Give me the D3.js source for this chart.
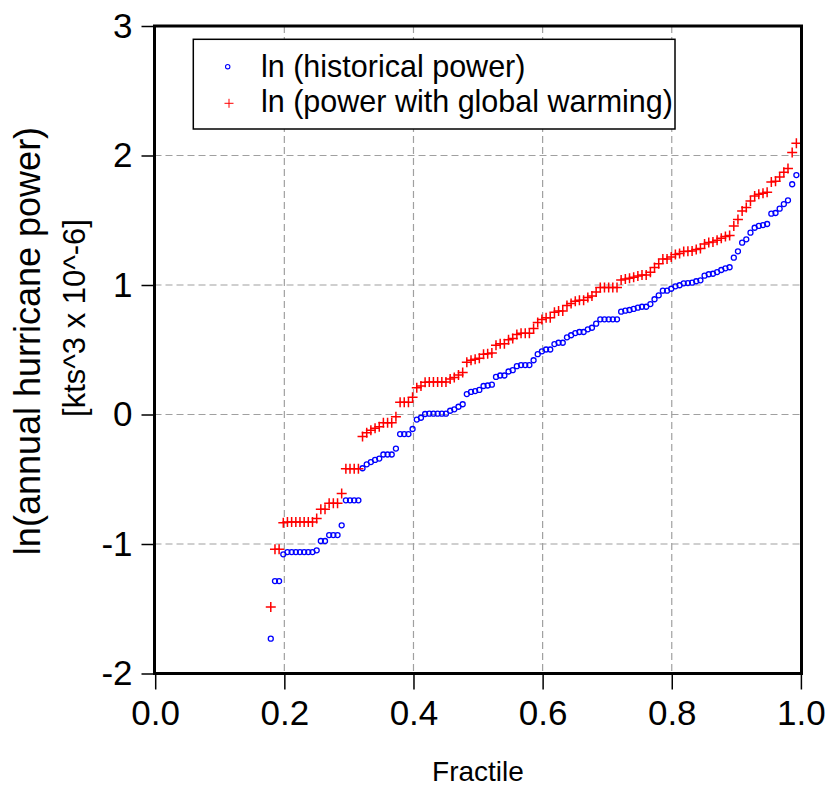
<!DOCTYPE html>
<html>
<head>
<meta charset="utf-8">
<script src="https://cdn.jsdelivr.net/npm/d3@7"></script>
<style>
  body { margin: 0; background: #fff; }
  svg { display: block; font-family: "Liberation Sans", Arial, sans-serif; }
  .grid-line { stroke: #a0a0a0; stroke-width: 1.2; stroke-dasharray: 7,4; }
  .axis path { display: none; }
  .axis line { stroke: #000; stroke-width: 1.5; }
  .axis text { font-size: 35px; fill: #000; }
</style>
</head>
<body>
<div class="container"></div>
<script>
// fractile of each ranked year (years with zero power are not plotted)
const fractile = [
  0.1790, 0.1855, 0.1919, 0.1984, 0.2048, 0.2113, 0.2178, 0.2242, 0.2307, 0.2371,
  0.2436, 0.2501, 0.2565, 0.2630, 0.2694, 0.2759, 0.2824, 0.2888, 0.2953, 0.3017,
  0.3082, 0.3147, 0.3211, 0.3276, 0.3340, 0.3405, 0.3470, 0.3534, 0.3599, 0.3663,
  0.3728, 0.3793, 0.3857, 0.3922, 0.3986, 0.4051, 0.4116, 0.4180, 0.4245, 0.4309,
  0.4374, 0.4439, 0.4503, 0.4568, 0.4632, 0.4697, 0.4762, 0.4826, 0.4891, 0.4955,
  0.5020, 0.5085, 0.5149, 0.5214, 0.5278, 0.5343, 0.5408, 0.5472, 0.5537, 0.5601,
  0.5666, 0.5731, 0.5795, 0.5860, 0.5924, 0.5989, 0.6054, 0.6118, 0.6183, 0.6247,
  0.6312, 0.6377, 0.6441, 0.6506, 0.6570, 0.6635, 0.6700, 0.6764, 0.6829, 0.6893,
  0.6958, 0.7023, 0.7087, 0.7152, 0.7216, 0.7281, 0.7346, 0.7410, 0.7475, 0.7539,
  0.7604, 0.7669, 0.7733, 0.7798, 0.7862, 0.7927, 0.7992, 0.8056, 0.8121, 0.8185,
  0.8250, 0.8315, 0.8379, 0.8444, 0.8508, 0.8573, 0.8638, 0.8702, 0.8767, 0.8831,
  0.8896, 0.8961, 0.9025, 0.9090, 0.9154, 0.9219, 0.9284, 0.9348, 0.9413, 0.9477,
  0.9542, 0.9607, 0.9671, 0.9736, 0.9800, 0.9865, 0.9930
];

// ln (historical power)
const historical = [
  -1.731, -1.286, -1.286, -1.080, -1.062, -1.062, -1.062, -1.062, -1.062, -1.062,
  -1.062, -1.049, -0.977, -0.977, -0.931, -0.931, -0.931, -0.856, -0.663, -0.663,
  -0.663, -0.663, -0.415, -0.385, -0.367, -0.351, -0.340, -0.309, -0.309, -0.309,
  -0.263, -0.151, -0.151, -0.151, -0.112, -0.039, -0.025, 0.004, 0.006, 0.006,
  0.006, 0.006, 0.006, 0.029, 0.040, 0.060, 0.079, 0.158, 0.174, 0.181,
  0.190, 0.220, 0.224, 0.230, 0.290, 0.301, 0.301, 0.332, 0.342, 0.373,
  0.382, 0.382, 0.382, 0.419, 0.466, 0.488, 0.502, 0.502, 0.544, 0.554,
  0.554, 0.596, 0.612, 0.629, 0.637, 0.637, 0.658, 0.670, 0.701, 0.735,
  0.735, 0.735, 0.735, 0.735, 0.794, 0.802, 0.807, 0.815, 0.825, 0.832,
  0.832, 0.853, 0.890, 0.920, 0.956, 0.956, 0.971, 0.990, 0.998, 1.013,
  1.015, 1.018, 1.029, 1.036, 1.072, 1.083, 1.087, 1.100, 1.116, 1.129,
  1.137, 1.211, 1.260, 1.327, 1.353, 1.404, 1.442, 1.456, 1.463, 1.471,
  1.551, 1.556, 1.589, 1.625, 1.654, 1.778, 1.849
];

// ln (power with global warming)
const warming = [
  -1.486, -1.041, -1.041, -0.835, -0.830, -0.830, -0.830, -0.830, -0.830, -0.830,
  -0.830, -0.804, -0.732, -0.732, -0.686, -0.686, -0.686, -0.611, -0.418, -0.418,
  -0.418, -0.418, -0.170, -0.140, -0.122, -0.106, -0.095, -0.064, -0.064, -0.064,
  -0.018, 0.094, 0.094, 0.094, 0.133, 0.206, 0.220, 0.249, 0.251, 0.251,
  0.251, 0.251, 0.251, 0.274, 0.285, 0.305, 0.324, 0.403, 0.419, 0.426,
  0.435, 0.465, 0.469, 0.475, 0.535, 0.546, 0.546, 0.577, 0.587, 0.618,
  0.627, 0.627, 0.627, 0.664, 0.711, 0.733, 0.747, 0.747, 0.789, 0.799,
  0.799, 0.841, 0.857, 0.874, 0.882, 0.882, 0.903, 0.915, 0.946, 0.980,
  0.980, 0.980, 0.980, 0.980, 1.039, 1.047, 1.052, 1.060, 1.070, 1.077,
  1.077, 1.098, 1.135, 1.165, 1.201, 1.201, 1.216, 1.235, 1.243, 1.258,
  1.260, 1.263, 1.274, 1.281, 1.317, 1.328, 1.332, 1.345, 1.361, 1.374,
  1.382, 1.456, 1.505, 1.572, 1.598, 1.649, 1.687, 1.701, 1.708, 1.716,
  1.796, 1.801, 1.834, 1.870, 1.899, 2.023, 2.094
];

const xTicks = [0, 0.2, 0.4, 0.6, 0.8, 1.0];
const yTicks = [-2, -1, 0, 1, 2, 3];
const legendLabels = ["ln (historical power)", "ln (power with global warming)"];

const width = 829;
const height = 789;
const plot = { left: 154.5, right: 801.5, top: 26, bottom: 673.5 };

const svg = d3
  .select(".container")
  .append("svg")
  .attr("width", width)
  .attr("height", height);

svg.append("rect").attr("width", width).attr("height", height).attr("fill", "#fff");

const xScale = d3.scaleLinear().domain([0, 1]).range([plot.left + 0.7, plot.right - 0.6]);
const yScale = d3.scaleLinear().domain([-2, 3]).range([plot.bottom, plot.top]);

// dashed grid, only on the inner ticks
svg
  .append("g")
  .selectAll("line")
  .data(xTicks.slice(1, -1))
  .join("line")
  .attr("class", "grid-line")
  .attr("x1", d => xScale(d))
  .attr("x2", d => xScale(d))
  .attr("y1", plot.top)
  .attr("y2", plot.bottom);

svg
  .append("g")
  .selectAll("line")
  .data(yTicks.slice(1, -1))
  .join("line")
  .attr("class", "grid-line")
  .attr("x1", plot.left)
  .attr("x2", plot.right)
  .attr("y1", d => yScale(d))
  .attr("y2", d => yScale(d));

// axes (plain hyphen for negatives, as in the original)
svg
  .append("g")
  .attr("class", "axis")
  .attr("transform", `translate(${plot.left},0)`)
  .call(d3.axisLeft(yScale).tickValues(yTicks).tickFormat(d => String(d)).tickSize(13).tickPadding(9));

svg
  .append("g")
  .attr("class", "axis")
  .attr("transform", `translate(0,${plot.bottom})`)
  .call(d3.axisBottom(xScale).tickValues(xTicks).tickFormat(d3.format(".1f")).tickSize(16).tickPadding(11));

// points
const data = fractile.map((f, i) => ({ f, h: historical[i], w: warming[i] }));

svg
  .append("g")
  .selectAll("circle")
  .data(data)
  .join("circle")
  .attr("cx", d => xScale(d.f))
  .attr("cy", d => yScale(d.h))
  .attr("r", 2.5)
  .attr("fill", "none")
  .attr("stroke", "#0000ff")
  .attr("stroke-width", 1.3);

const plus = "M-5,0H5M0,-5V5";
svg
  .append("g")
  .selectAll("path")
  .data(data)
  .join("path")
  .attr("transform", d => `translate(${xScale(d.f)},${yScale(d.w)})`)
  .attr("d", plus)
  .attr("stroke", "#ff0000")
  .attr("stroke-width", 1.5);

// frame
svg
  .append("rect")
  .attr("x", plot.left)
  .attr("y", plot.top)
  .attr("width", plot.right - plot.left)
  .attr("height", plot.bottom - plot.top)
  .attr("fill", "none")
  .attr("stroke", "#000")
  .attr("stroke-width", 3);

// legend
const legend = svg.append("g");
legend
  .append("rect")
  .attr("x", 193.3)
  .attr("y", 39.3)
  .attr("width", 481.7)
  .attr("height", 89.7)
  .attr("fill", "#fff")
  .attr("stroke", "#000")
  .attr("stroke-width", 1.5);

legend
  .append("circle")
  .attr("cx", 227.7)
  .attr("cy", 66.7)
  .attr("r", 2.2)
  .attr("fill", "none")
  .attr("stroke", "#0000ff")
  .attr("stroke-width", 1.1);

legend
  .append("path")
  .attr("transform", "translate(229,103.3)")
  .attr("d", "M-4.5,0H4.5M0,-4.5V4.5")
  .attr("stroke", "#ff0000")
  .attr("stroke-width", 1);

legend
  .selectAll("text")
  .data(legendLabels)
  .join("text")
  .attr("x", 261)
  .attr("y", (d, i) => 76.7 + i * 35)
  .attr("font-size", 30.5)
  .text(d => d);

// axis titles
svg
  .append("text")
  .attr("x", 478)
  .attr("y", 781)
  .attr("text-anchor", "middle")
  .attr("font-size", 28)
  .text("Fractile");

svg
  .append("text")
  .attr("transform", "translate(40,341) rotate(-90)")
  .attr("text-anchor", "middle")
  .attr("font-size", 36)
  .text("ln(annual hurricane power)");

svg
  .append("text")
  .attr("transform", "translate(85,318) rotate(-90)")
  .attr("text-anchor", "middle")
  .attr("font-size", 31)
  .text("[kts^3 x 10^-6]");
</script>
</body>
</html>
